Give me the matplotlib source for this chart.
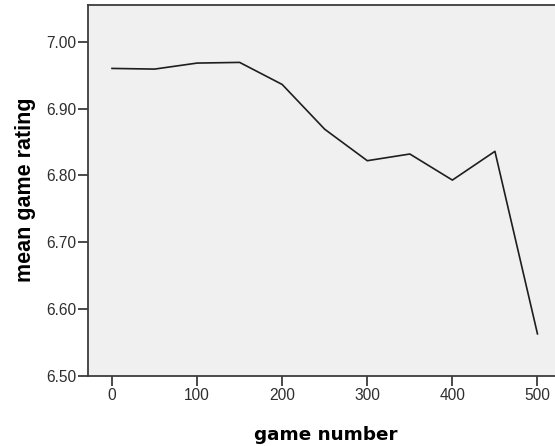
import matplotlib
matplotlib.use("Agg")
import matplotlib.pyplot as plt

game_number = [0, 50, 100, 150, 200, 250, 300, 350, 400, 450, 500]
mean_rating = [6.960, 6.959, 6.968, 6.969, 6.936, 6.869, 6.822, 6.832, 6.793, 6.836, 6.563]
x_ticks = [0, 100, 200, 300, 400, 500]
y_ticks = [6.50, 6.60, 6.70, 6.80, 6.90, 7.00]

fig = plt.figure(figsize=(5.55, 4.46), dpi=100)
ax = fig.add_axes([88 / 555, 70 / 446, 1 - 88 / 555, 371.5 / 446])
ax.set_facecolor("#f0f0f0")

ax.plot(game_number, mean_rating, color="#1e1e1e", linewidth=1.2)

ax.set_xlim(-28.2, 520.6)
ax.set_ylim(6.50, 7.0556)
ax.set_xticks(x_ticks)
ax.set_yticks(y_ticks)
ax.set_yticklabels([f"{v:.2f}" for v in y_ticks])

for side in ("left", "bottom", "top"):
    ax.spines[side].set_color("#3c3c3c")
    ax.spines[side].set_linewidth(1.3)
ax.spines["right"].set_visible(False)

ax.tick_params(direction="out", length=7, width=1.3, color="#3c3c3c",
               labelsize=11.2, labelcolor="#2e2e2e", pad=1.5)
for lbl in ax.get_xticklabels() + ax.get_yticklabels():
    lbl.set_family("Liberation Sans")

ax.set_xlabel("game number", fontsize=13.2, fontweight="bold", family="DejaVu Sans")
ax.xaxis.set_label_coords(0.51, -0.135)
ax.set_ylabel("mean game rating", fontsize=15.5, fontweight="bold", family="Liberation Sans", labelpad=7)

fig.savefig("out.png", dpi=100)
